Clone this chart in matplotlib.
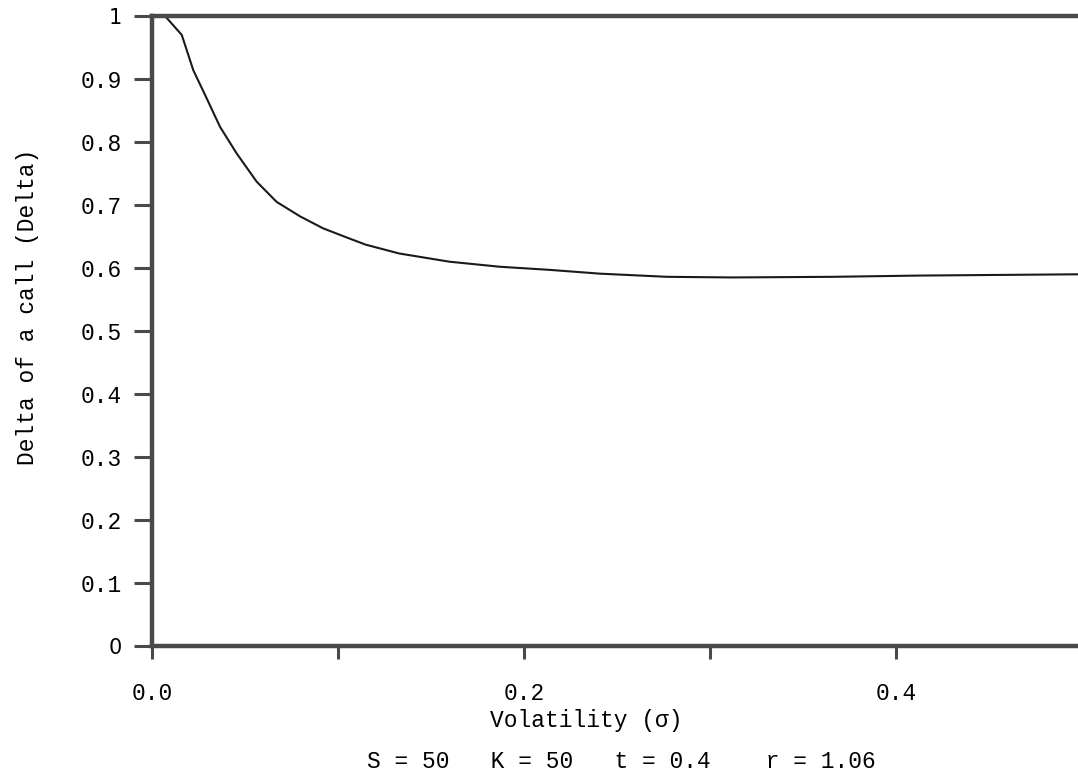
import matplotlib
matplotlib.use("Agg")
import matplotlib.pyplot as plt

# Data
volatility = [0.0, 0.007, 0.016, 0.0222, 0.0285, 0.0366, 0.0455, 0.0563, 0.067, 0.0796,
              0.092, 0.106, 0.115, 0.133, 0.160, 0.187, 0.214, 0.241, 0.277, 0.312,
              0.366, 0.413, 0.498]
delta = [1.0, 1.0, 0.970, 0.914, 0.875, 0.824, 0.782, 0.737, 0.705, 0.682,
         0.663, 0.647, 0.637, 0.623, 0.610, 0.602, 0.597, 0.591, 0.586, 0.585,
         0.586, 0.588, 0.590]

y_ticks = [0, 0.1, 0.2, 0.3, 0.4, 0.5, 0.6, 0.7, 0.8, 0.9, 1.0]
y_tick_labels = ["0", "0.1", "0.2", "0.3", "0.4", "0.5", "0.6", "0.7", "0.8", "0.9", "1"]
x_ticks = [0.0, 0.1, 0.2, 0.3, 0.4]
x_tick_labels = ["0.0", "", "0.2", "", "0.4"]

x_label = "Volatility (σ)"
y_label = "Delta of a call (Delta)"
footnote = "S = 50   K = 50   t = 0.4    r = 1.06"

mono = "Liberation Mono"
fs = 16.5
spine_col = "#4a4a4a"

fig = plt.figure(figsize=(10.78, 7.77), dpi=100)
ax = fig.add_axes([152 / 1078, 131 / 777, 1 - 152 / 1078, 630 / 777])

ax.plot(volatility, delta, color="#1a1a1a", lw=1.5)

ax.set_xlim(0, 0.498)
ax.set_ylim(0, 1)

for s in ["top", "bottom", "left"]:
    ax.spines[s].set_linewidth(3.2)
    ax.spines[s].set_color(spine_col)
ax.spines["right"].set_visible(False)

ax.set_yticks(y_ticks)
ax.set_yticklabels(y_tick_labels, fontfamily=mono, fontsize=fs)
ax.set_xticks(x_ticks)
ax.set_xticklabels(x_tick_labels, fontfamily=mono, fontsize=fs)

ax.tick_params(axis="y", direction="out", length=13, width=2.2, color=spine_col, pad=9)
ax.tick_params(axis="x", direction="out", length=9, width=2.2, color=spine_col, pad=17)

labels = ax.get_yticklabels()
for i in (0, len(labels) - 1):
    labels[i].set_fontfamily("DejaVu Sans")
    labels[i].set_fontsize(15)

fig.text(28 / 1078, 1 - 307 / 777, y_label, rotation=90, ha="center", va="center",
         fontfamily=mono, fontsize=fs)
fig.text(586 / 1078, 1 - 720 / 777, x_label, ha="center", va="center",
         fontfamily=mono, fontsize=fs)
fig.text(621 / 1078, 1 - 762 / 777, footnote, ha="center", va="center",
         fontfamily=mono, fontsize=fs)

fig.savefig("out.png", dpi=100)
